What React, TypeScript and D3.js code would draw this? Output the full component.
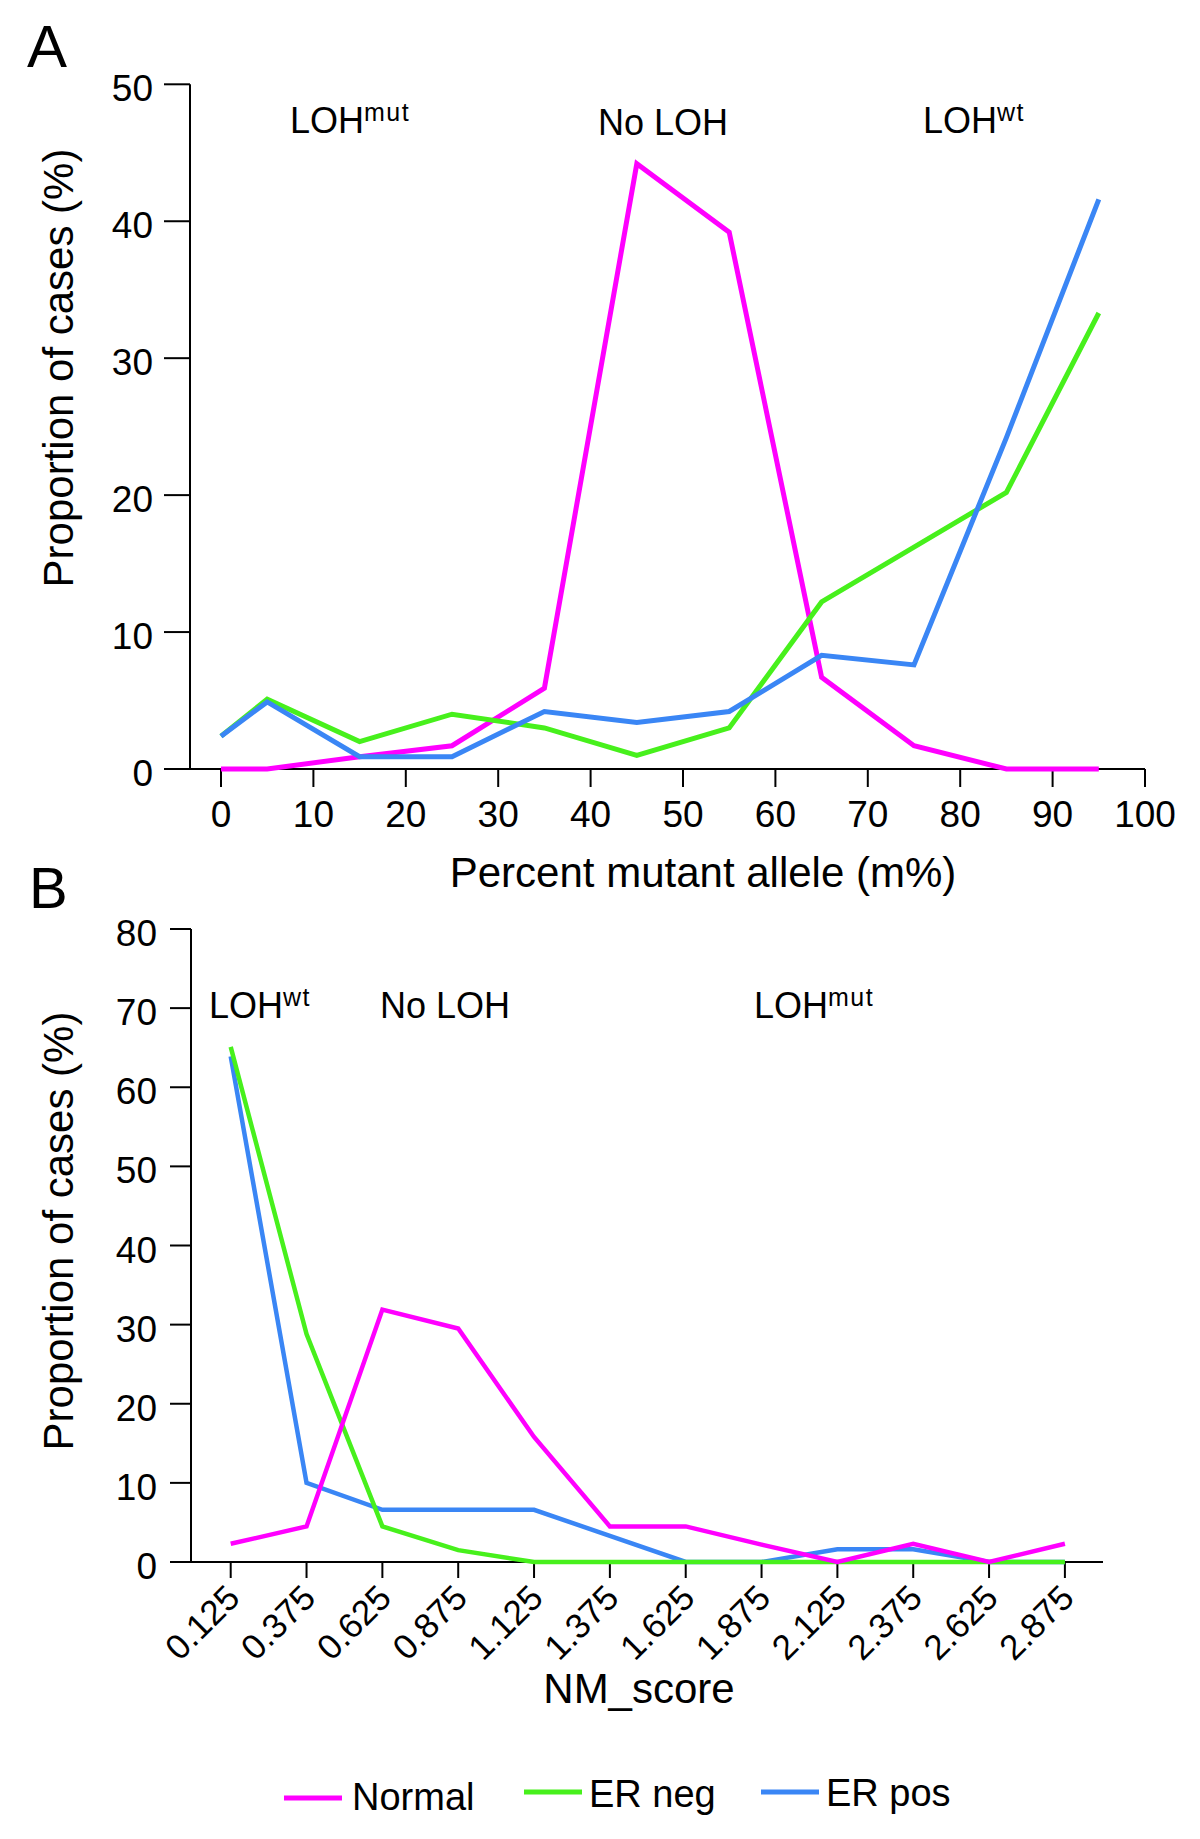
import React from "react";
import * as d3 from "d3";

// ---------- Data ----------
const aBins = [0, 5, 15, 25, 35, 45, 55, 65, 75, 85, 95];
const aNormal = [0, 0, 0.9, 1.7, 5.9, 44.2, 39.2, 6.7, 1.7, 0, 0];
const aErNeg = [2.4, 5.1, 2.0, 4.0, 3.0, 1.0, 3.0, 12.2, 16.2, 20.2, 33.3];
const aErPos = [2.4, 4.9, 0.9, 0.9, 4.2, 3.4, 4.2, 8.3, 7.6, 24.2, 41.6];
const aXTicks = [0, 10, 20, 30, 40, 50, 60, 70, 80, 90, 100];
const aYTicks = [0, 10, 20, 30, 40, 50];

const bCats = ["0.125", "0.375", "0.625", "0.875", "1.125", "1.375", "1.625", "1.875", "2.125", "2.375", "2.625", "2.875"];
const bNormal = [2.3, 4.5, 31.9, 29.5, 15.8, 4.5, 4.5, 2.2, 0, 2.3, 0, 2.3];
const bErNeg = [65.1, 28.8, 4.5, 1.5, 0, 0, 0, 0, 0, 0, 0, 0];
const bErPos = [63.9, 10, 6.6, 6.6, 6.6, 3.3, 0, 0, 1.6, 1.6, 0, 0];
const bYTicks = [0, 10, 20, 30, 40, 50, 60, 70, 80];

const seriesNames = ["Normal", "ER neg", "ER pos"];
const COLORS: Record<string, string> = {
  Normal: "#ff00ff",
  "ER neg": "#47f01c",
  "ER pos": "#3a86f5",
};

const FONT = "'Liberation Sans', Arial, sans-serif";

export default function App() {
  // Panel A scales
  const xA = d3.scaleLinear().domain([0, 100]).range([221, 1145]);
  const yA = d3.scaleLinear().domain([0, 50]).range([769, 84.3]);
  const lineA = d3
    .line<[number, number]>()
    .x((d) => xA(d[0]))
    .y((d) => yA(d[1]));
  const aSeries: [string, number[]][] = [
    ["Normal", aNormal],
    ["ER neg", aErNeg],
    ["ER pos", aErPos],
  ];

  // Panel B scales
  const xB = d3.scalePoint<string>().domain(bCats).range([230.7, 1064.9]).padding(0);
  const yB = d3.scaleLinear().domain([0, 80]).range([1562, 929]);
  const lineB = d3
    .line<[string, number]>()
    .x((d) => xB(d[0]) as number)
    .y((d) => yB(d[1]));
  const bSeries: [string, number[]][] = [
    ["ER pos", bErPos],
    ["ER neg", bErNeg],
    ["Normal", bNormal],
  ];

  const axisColor = "#000";

  const legendItems = [
    { name: seriesNames[0], x1: 284, x2: 342, ly: 1798, tx: 352, ty: 1810 },
    { name: seriesNames[1], x1: 524, x2: 582, ly: 1792, tx: 589, ty: 1807 },
    { name: seriesNames[2], x1: 761, x2: 819, ly: 1792, tx: 826, ty: 1806 },
  ];

  return (
    <div style={{ position: "absolute", left: 0, top: 0 }}>
      <svg width={1200} height={1839} viewBox="0 0 1200 1839" style={{ display: "block", background: "#fff" }} fontFamily={FONT}>
        <rect x={0} y={0} width={1200} height={1839} fill="#fff" />

        {/* ================= Panel A ================= */}
        <text x={27} y={67} fontSize={60}>A</text>

        {/* y axis */}
        <line x1={190} x2={190} y1={yA(50)} y2={yA(0)} stroke={axisColor} strokeWidth={2} />
        {aYTicks.map((t) => (
          <g key={"ay" + t}>
            <line x1={164} x2={190} y1={yA(t)} y2={yA(t)} stroke={axisColor} strokeWidth={2} />
            <text x={153} y={yA(t) + 17} fontSize={37} textAnchor="end">{t}</text>
          </g>
        ))}
        {/* x axis */}
        <line x1={164} x2={xA(100)} y1={yA(0)} y2={yA(0)} stroke={axisColor} strokeWidth={2} />
        {aXTicks.map((t) => (
          <g key={"ax" + t}>
            <line x1={xA(t)} x2={xA(t)} y1={yA(0)} y2={yA(0) + 18} stroke={axisColor} strokeWidth={2} />
            <text x={xA(t)} y={827} fontSize={37} textAnchor="middle">{t}</text>
          </g>
        ))}
        <text x={703} y={887} fontSize={42} textAnchor="middle">Percent mutant allele (m%)</text>
        <text transform="translate(73,368) rotate(-90)" fontSize={42} textAnchor="middle">Proportion of cases (%)</text>

        {/* annotations A */}
        <text x={290} y={133} fontSize={36}>
          LOH<tspan fontSize={25} dy={-12} letterSpacing={1.5}>mut</tspan>
        </text>
        <text x={598} y={135} fontSize={36}>No LOH</text>
        <text x={923} y={133} fontSize={36}>
          LOH<tspan fontSize={25} dy={-12} letterSpacing={1.5}>wt</tspan>
        </text>

        {/* lines A */}
        {aSeries.map(([name, vals]) => (
          <path
            key={"al" + name}
            d={lineA(aBins.map((b, i) => [b, vals[i]] as [number, number])) || ""}
            fill="none"
            stroke={COLORS[name]}
            strokeWidth={5}
            strokeLinejoin="miter"
          />
        ))}

        {/* ================= Panel B ================= */}
        <text x={29} y={908} fontSize={58}>B</text>

        <line x1={191} x2={191} y1={yB(80)} y2={yB(0)} stroke={axisColor} strokeWidth={2} />
        {bYTicks.map((t) => (
          <g key={"by" + t}>
            <line x1={170} x2={191} y1={yB(t)} y2={yB(t)} stroke={axisColor} strokeWidth={2} />
            <text x={157} y={yB(t) + 17} fontSize={37} textAnchor="end">{t}</text>
          </g>
        ))}
        <line x1={170} x2={1103} y1={yB(0)} y2={yB(0)} stroke={axisColor} strokeWidth={2} />
        {bCats.map((c) => {
          const x = xB(c) as number;
          return (
            <g key={"bx" + c}>
              <line x1={x} x2={x} y1={yB(0)} y2={yB(0) + 16} stroke={axisColor} strokeWidth={2} />
              <text transform={`translate(${x + 11},1600) rotate(-45)`} fontSize={35} textAnchor="end">{c}</text>
            </g>
          );
        })}
        <text x={639} y={1703} fontSize={42} textAnchor="middle">NM_score</text>
        <text transform="translate(73,1231) rotate(-90)" fontSize={42} textAnchor="middle">Proportion of cases (%)</text>

        {/* annotations B */}
        <text x={209} y={1018} fontSize={36}>
          LOH<tspan fontSize={25} dy={-12} letterSpacing={1.5}>wt</tspan>
        </text>
        <text x={380} y={1018} fontSize={36}>No LOH</text>
        <text x={754} y={1018} fontSize={36}>
          LOH<tspan fontSize={25} dy={-12} letterSpacing={1.5}>mut</tspan>
        </text>

        {/* lines B */}
        {bSeries.map(([name, vals]) => (
          <path
            key={"bl" + name}
            d={lineB(bCats.map((c, i) => [c, vals[i]] as [string, number])) || ""}
            fill="none"
            stroke={COLORS[name]}
            strokeWidth={4.5}
            strokeLinejoin="miter"
          />
        ))}

        {/* legend */}
        {legendItems.map((it) => (
          <g key={"lg" + it.name}>
            <line x1={it.x1} x2={it.x2} y1={it.ly} y2={it.ly} stroke={COLORS[it.name]} strokeWidth={5} />
            <text x={it.tx} y={it.ty} fontSize={38}>{it.name}</text>
          </g>
        ))}
      </svg>
    </div>
  );
}
